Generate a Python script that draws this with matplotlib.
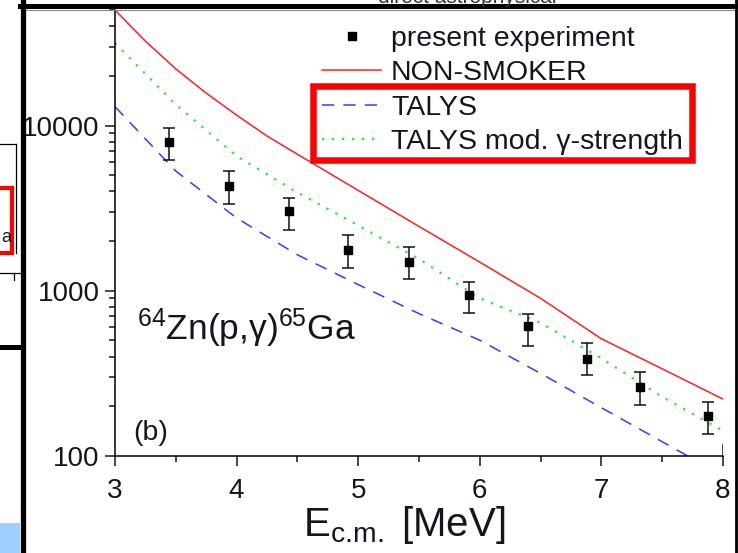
import numpy as np
import matplotlib
matplotlib.use('Agg')
import matplotlib.pyplot as plt
from matplotlib.patches import Rectangle
from matplotlib.lines import Line2D

plt.rcParams['font.family'] = ['Liberation Sans', 'DejaVu Sans']
plt.rcParams['mathtext.fontset'] = 'custom'
plt.rcParams['mathtext.rm'] = 'Liberation Sans'
plt.rcParams['mathtext.it'] = 'Liberation Sans:italic'

# measured points (E_cm in MeV) with asymmetric errors
E_exp = [3.44, 3.94, 4.43, 4.92, 5.42, 5.91, 6.40, 6.88, 7.32, 7.88]
S_exp = [8000, 4290, 3020, 1770, 1490, 937, 608, 389, 263, 175]
S_hi = [9690, 5285, 3646, 2185, 1848, 1129, 726, 482, 324, 213]
S_lo = [6195, 3368, 2342, 1372, 1177, 732, 466, 308, 204, 135]

# model curves
E_ns = [3.0, 3.25, 3.5, 3.75, 4.0, 4.25, 4.5, 5.0, 5.5, 6.0, 6.5, 7.0, 7.5, 8.0]
S_ns = [50000, 32400, 22000, 15700, 11560, 8640, 6700, 4050, 2450, 1490, 900, 512, 337, 221]

E_talys = [3.0, 3.5, 4.0, 4.5, 5.0, 5.5, 6.0, 6.5, 7.0, 7.5, 8.0]
S_talys = [13000, 5300, 2755, 1650, 1090, 727, 502, 316, 196, 122, 76]
S_mod = [31500, 13400, 6530, 3935, 2485, 1560, 900, 640, 390, 228, 142]

txt = '#15151f'

fig = plt.figure(figsize=(7.38, 5.53), dpi=100)
ax = fig.add_axes([115/738, 1-456/553, 608/738, 446/553])

l_ns, = ax.plot(E_ns, S_ns, '-', color='#ff2020', lw=1.1)
l_t, = ax.plot(E_talys, S_talys, '--', color='#3a3aff', lw=1.1)
l_t.set_dashes([8, 6])
l_m, = ax.plot(E_talys, S_mod, ':', color='#22ee22', lw=1.6)
l_m.set_dashes([1, 3.5])

yerr = [np.array(S_exp) - np.array(S_lo), np.array(S_hi) - np.array(S_exp)]
ax.errorbar(E_exp, S_exp, yerr=yerr, fmt='s', color='black', ms=5.5,
            ecolor='#111111', elinewidth=1.1, capsize=4.5, capthick=1.1)

ax.set_yscale('log')
ax.set_xlim(3, 8)
ax.set_ylim(100, 50000)
ax.set_xticks([3, 4, 5, 6, 7, 8])
ax.set_xticks([3.5, 4.5, 5.5, 6.5, 7.5], minor=True)
ax.set_yticks([100, 1000, 10000])
ax.set_yticklabels(['100', '1000', '10000'])
ax.yaxis.set_minor_formatter(matplotlib.ticker.NullFormatter())
for s in ['top', 'right']:
    ax.spines[s].set_visible(False)
for s in ['left', 'bottom']:
    ax.spines[s].set_linewidth(1.1)
ax.tick_params(which='major', direction='out', length=7.5, width=1.1,
               labelsize=20, colors=txt)
ax.tick_params(axis='x', which='major', pad=8)
ax.tick_params(which='minor', direction='out', length=4.5, width=1.1, colors=txt)
ax.axvline(8, ymax=0.025, color=txt, lw=1.1)

ax.set_xlabel(r'E$_{\mathrm{c.\!m.}}$ [MeV]', fontsize=29, color=txt)
ax.xaxis.set_label_coords(0.475, -0.108)

ax.text(0.036, 0.26, r'$^{\mathrm{64}}$Zn(p,' + u'\u03b3' + r')$^{\mathrm{65}}$Ga',
        transform=ax.transAxes, fontsize=25.5, color=txt, va='baseline')
ax.text(0.03, 0.036, '(b)', transform=ax.transAxes, fontsize=20.5, color=txt,
        va='baseline')

# legend: plain square for the data, no error bar
h_exp = Line2D([], [], ls='none', marker='s', ms=5.5, color='black')
handles = [h_exp, l_ns, l_t, l_m]
labels = ['present experiment', 'NON-SMOKER', 'TALYS', u'TALYS mod. \u03b3-strength']
leg = fig.legend(handles, labels, loc='upper left',
                 bbox_to_anchor=(321.7/738, 1-25.5/553), frameon=False,
                 fontsize=20.5, handlelength=2.1, handletextpad=0.33,
                 borderpad=0, borderaxespad=0, labelspacing=0.3)
for t in leg.get_texts():
    t.set_color(txt)

# highlight box round the TALYS entries
fig.patches.append(Rectangle((313/738, 1-160/553), 378.5/738, 74/553,
                             transform=fig.transFigure, fill=False,
                             edgecolor='#ff0000', lw=4.7))

# page frame and bits of the neighbouring panel
def hline(x0, x1, y, lw, c='black'):
    fig.add_artist(Line2D([x0/738, x1/738], [1-y/553, 1-y/553], color=c, lw=lw,
                          transform=fig.transFigure))

def vline(x, y0, y1, lw, c='black'):
    fig.add_artist(Line2D([x/738, x/738], [1-y0/553, 1-y1/553], color=c, lw=lw,
                          transform=fig.transFigure))

hline(20, 738, 6, 3.6)
hline(26, 738, 9.5, 0.8, '#888888')
vline(23, 0, 553, 3.8)
vline(735.5, 0, 553, 2.0)
hline(0, 23, 347, 3.6)
hline(0, 16, 143.5, 0.9)
vline(16, 143.5, 253, 0.9)
hline(0, 20, 273, 0.9)
vline(14, 273, 280, 0.9)
fig.patches.append(Rectangle((-3/738, 1-253/553), 15/738, 65/553,
                             transform=fig.transFigure, fill=False,
                             edgecolor='#ff0000', lw=3.0))
fig.text(1/738, 1-242/553, 'a', fontsize=13, color=txt)
fig.patches.append(Rectangle((0, 0), 20/738, 30/553, transform=fig.transFigure,
                             facecolor='#9fcfff', edgecolor='none'))
fig.text(378/738, 1-3/553, 'direct astrophysical', fontsize=15, color='#333344',
         va='baseline')

fig.savefig('out.png', dpi=100)
